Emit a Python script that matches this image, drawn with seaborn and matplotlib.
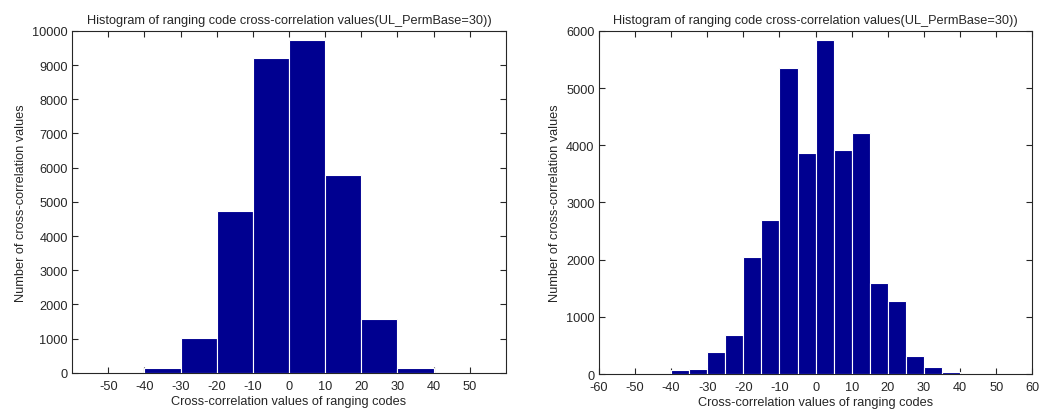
import matplotlib
matplotlib.use("Agg")
import matplotlib.pyplot as plt
import seaborn as sns
import pandas as pd

sns.set_style("ticks")
plt.rcParams['font.family'] = ['Liberation Sans', 'DejaVu Sans']
plt.rcParams['xtick.direction'] = 'in'
plt.rcParams['ytick.direction'] = 'in'
plt.rcParams['axes.unicode_minus'] = False

# left histogram: 10-wide bins
left_edges = [-50, -40, -30, -20, -10, 0, 10, 20, 30, 40, 50, 60]
left_counts = [0, 150, 1030, 4730, 9200, 9730, 5800, 1560, 130, 0, 0]

# right histogram: 5-wide bins
right_edges = [-50, -45, -40, -35, -30, -25, -20, -15, -10, -5, 0,
               5, 10, 15, 20, 25, 30, 35, 40, 45, 50, 55]
right_counts = [0, 0, 75, 90, 390, 690, 2050, 2690, 5350, 3860,
                5840, 3910, 4220, 1600, 1270, 310, 120, 30, 0, 0, 0]

title = "Histogram of ranging code cross-correlation values(UL_PermBase=30))"
xlab = "Cross-correlation values of ranging codes"
ylab = "Number of cross-correlation values"
bar_color = "#000090"


def centers(edges):
    return [(a + b) / 2 for a, b in zip(edges[:-1], edges[1:])]


f = plt.figure(figsize=(10.45, 4.14), dpi=100)
ax1 = f.add_axes([0.069, 0.097, 0.415, 0.826])
ax2 = f.add_axes([0.573, 0.094, 0.415, 0.829])

df_left = pd.DataFrame({'x': centers(left_edges), 'n': left_counts})
df_right = pd.DataFrame({'x': centers(right_edges), 'n': right_counts})

for ax, df, edges in [(ax1, df_left, left_edges), (ax2, df_right, right_edges)]:
    sns.histplot(data=df, x='x', weights='n', bins=edges, ax=ax,
                 color=bar_color, alpha=1, edgecolor='white', linewidth=0.8,
                 zorder=3)
    for s in ax.spines.values():
        s.set_visible(True)
        s.set_linewidth(0.8)
        s.set_zorder(1)
    ax.tick_params(top=True, right=True, labelsize=9.2, length=4, width=0.8)
    ax.tick_params(axis='x', pad=5)
    ax.tick_params(axis='y', pad=3)
    ax.set_xlim(-60, 60)
    ax.set_title(title, fontsize=9.2, pad=6)
    ax.set_xlabel(xlab, fontsize=9.2, labelpad=2)
    ax.set_ylabel(ylab, fontsize=9.2, labelpad=4)

ax1.set_ylim(0, 10000)
ax1.set_yticks(range(0, 10001, 1000))
ax1.set_xticks(range(-50, 51, 10))
ax2.set_ylim(0, 6000)
ax2.set_yticks(range(0, 6001, 1000))
ax2.set_xticks(range(-60, 61, 10))

plt.savefig('out.png', dpi=100)
